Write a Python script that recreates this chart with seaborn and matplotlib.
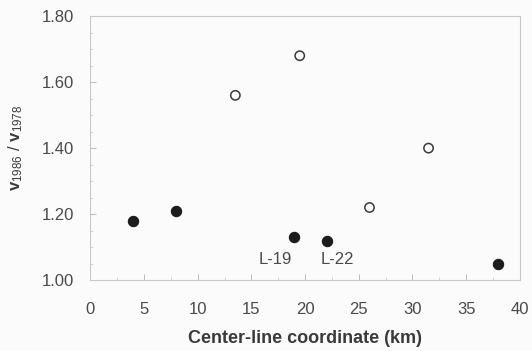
import matplotlib
matplotlib.use("Agg")
import matplotlib.pyplot as plt
import seaborn as sns
import pandas as pd
from matplotlib.ticker import MultipleLocator

# Velocity ratio along the glacier center line
closed_x = [4, 8, 19, 22, 38]
closed_y = [1.18, 1.21, 1.13, 1.12, 1.05]
open_x = [13.5, 19.5, 26, 31.5]
open_y = [1.56, 1.68, 1.22, 1.40]

site_labels = ["L-19", "L-22"]
site_x = [19, 22]
site_offsets = [(-14, -16), (8, -14)]

x_ticks = [0, 5, 10, 15, 20, 25, 30, 35, 40]
y_ticks = [1.00, 1.20, 1.40, 1.60, 1.80]

sns.set_theme(style="white")
plt.rcParams["font.family"] = ["Liberation Sans", "DejaVu Sans"]
plt.rcParams["mathtext.fontset"] = "custom"
plt.rcParams["mathtext.rm"] = "Liberation Sans"
plt.rcParams["mathtext.bf"] = "Liberation Sans:bold"
plt.rcParams["mathtext.it"] = "Liberation Sans:italic"

closed_df = pd.DataFrame({"x": closed_x, "y": closed_y})
open_df = pd.DataFrame({"x": open_x, "y": open_y})

fig = plt.figure(figsize=(5.32, 3.51), dpi=100, facecolor="#fbfbfb")
ax = fig.add_axes([0.170, 0.202, 0.807, 0.752])
ax.set_facecolor("#fbfbfb")

sns.scatterplot(data=closed_df, x="x", y="y", ax=ax, s=55,
                color="#1c1c1c", edgecolor="#1c1c1c", linewidth=0.8)
sns.scatterplot(data=open_df, x="x", y="y", ax=ax, s=45,
                facecolor="none", edgecolor="#3a3a3a", linewidth=1.1)

ax.set_xlim(0, 40)
ax.set_ylim(1.00, 1.80)
ax.set_xticks(x_ticks)
ax.set_yticks(y_ticks)
ax.set_xticklabels([str(v) for v in x_ticks])
ax.set_yticklabels([f"{v:.2f}" for v in y_ticks])
ax.xaxis.set_minor_locator(MultipleLocator(2.5))
ax.yaxis.set_minor_locator(MultipleLocator(0.05))

ax.tick_params(axis="both", which="major", direction="in", length=4,
               width=0.7, color="#bbbbbb", labelsize=12, labelcolor="#4a4a4a")
ax.tick_params(axis="x", which="major", pad=16)
ax.tick_params(axis="y", which="major", pad=12)
ax.tick_params(axis="both", which="minor", direction="in", length=2.5,
               width=0.6, color="#cccccc")
ax.tick_params(axis="x", which="both", bottom=True, top=False)
ax.tick_params(axis="y", which="both", left=True, right=False)

for side in ["left", "bottom", "top", "right"]:
    ax.spines[side].set_color("#c8c8c8")
    ax.spines[side].set_linewidth(0.8)
    ax.spines[side].set_visible(True)

for name, sx, off in zip(site_labels, site_x, site_offsets):
    sy = closed_y[closed_x.index(sx)]
    ax.annotate(name, xy=(sx, sy), xytext=off,
                textcoords="offset points", ha="center", va="center",
                fontsize=12, color="#4a4a4a")

ax.set_xlabel("Center-line coordinate (km)", fontsize=13, fontweight="bold",
              color="#3a3a3a", labelpad=9)
ax.set_ylabel(r"$\mathbf{v}_{\mathrm{1986}}$ / $\mathbf{v}_{\mathrm{1978}}$",
              fontsize=12, color="#3a3a3a", labelpad=12)

fig.savefig("out.png", dpi=100, facecolor=fig.get_facecolor())
